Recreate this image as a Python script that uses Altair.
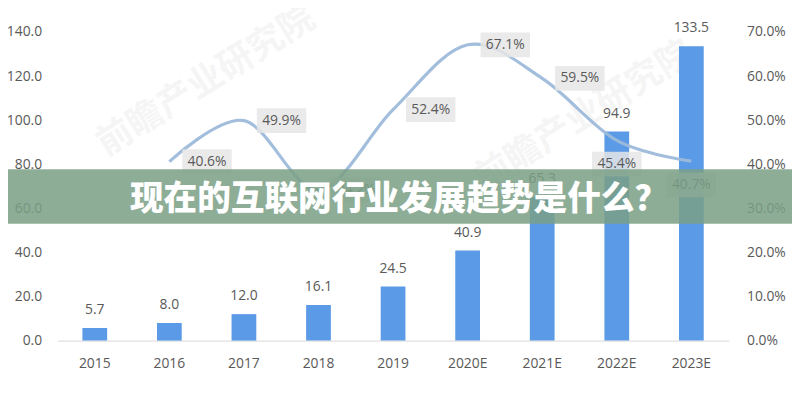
import altair as alt
import pandas as pd

years = ["2015", "2016", "2017", "2018", "2019", "2020E", "2021E", "2022E", "2023E"]
revenue = [5.7, 8.0, 12.0, 16.1, 24.5, 40.9, 65.3, 94.9, 133.5]
growth_pct = [None, 40.6, 49.9, 34.2, 52.4, 67.1, 59.5, 45.4, 40.7]
right_label_years = ["2016", "2017", "2018", "2019", "2020E", "2021E"]
below_label_years = ["2022E", "2023E"]
left_ticks = [0, 20, 40, 60, 80, 100, 120, 140]
right_ticks = [0, 0.1, 0.2, 0.3, 0.4, 0.5, 0.6, 0.7]
title_text = "现在的互联网行业发展趋势是什么？"
watermark = "前瞻产业研究院"

df = pd.DataFrame({
    "year": years,
    "revenue": revenue,
    "growth": [None if g is None else g / 100 for g in growth_pct],
})

FONT = "Open Sans"
GRAY = "#595959"

x_enc = alt.X(
    "year:N", sort=years,
    scale=alt.Scale(paddingInner=0, paddingOuter=0),
    axis=alt.Axis(title=None, labelAngle=0, ticks=False, domainColor="#d9d9d9",
                  domainWidth=1, labelPadding=16, labelFontSize=14,
                  labelColor=GRAY, labelFont=FONT, grid=False),
)

y_left = alt.Y(
    "revenue:Q",
    scale=alt.Scale(domain=[0, 150], nice=False),
    axis=alt.Axis(values=left_ticks, format=".1f", grid=False, ticks=False,
                  domain=False, domainOpacity=0, title=None, labelPadding=16,
                  labelFontSize=14, labelColor=GRAY, labelFont=FONT),
)

y_right = alt.Y(
    "growth:Q",
    scale=alt.Scale(domain=[0, 0.75], nice=False),
    axis=alt.Axis(values=right_ticks, format=".1%", grid=False, ticks=False,
                  domain=False, domainOpacity=0, title=None, orient="right",
                  labelPadding=18, labelFontSize=14, labelColor=GRAY,
                  labelFont=FONT),
)

base = alt.Chart(df)

# faint watermark
wm_df = pd.DataFrame({"t": [watermark]})
wm_layers = []
for (px, py) in [(150, 72), (532, 107)]:
    wm_layers.append(
        alt.Chart(wm_df).mark_text(
            font="Noto Sans CJK SC", fontSize=36, fontWeight="bold", angle=328,
            color="#000000", opacity=0.035, align="center", baseline="middle"
        ).encode(text="t:N", x=alt.value(px), y=alt.value(py))
    )

bars = base.mark_bar(size=25, color="#5b9ae6").encode(x=x_enc, y=y_left)
bar_text = base.mark_text(
    baseline="bottom", dy=-11, fontSize=14, color=GRAY, font=FONT
).encode(x=x_enc, y=y_left, text=alt.Text("revenue:Q", format=".1f"))

left = alt.layer(bars, bar_text)

gbase = base.transform_filter("datum.growth != null")
line = gbase.mark_line(
    interpolate="cardinal", color="#9dbbda", strokeWidth=3.2, opacity=0.95
).encode(x=x_enc, y=y_right)

box_right_path = "M0.13,-0.125 L0.63,-0.125 L0.63,0.125 L0.13,0.125 Z"
box_below_path = "M-0.25,0.115 L0.25,0.115 L0.25,0.365 L-0.25,0.365 Z"

boxes_r = gbase.transform_filter(
    alt.FieldOneOfPredicate(field="year", oneOf=right_label_years)
).mark_point(shape=box_right_path, size=40000, filled=True,
             color="#e6e6e6", opacity=0.85, strokeWidth=0).encode(x=x_enc, y=y_right)
boxes_b = gbase.transform_filter(
    alt.FieldOneOfPredicate(field="year", oneOf=below_label_years)
).mark_point(shape=box_below_path, size=40000, filled=True,
             color="#e6e6e6", opacity=0.85, strokeWidth=0).encode(x=x_enc, y=y_right)

lab_r = gbase.transform_filter(
    alt.FieldOneOfPredicate(field="year", oneOf=right_label_years)
).mark_text(dx=38, fontSize=14, color=GRAY, font=FONT, baseline="middle").encode(
    x=x_enc, y=y_right, text=alt.Text("growth:Q", format=".1%"))
lab_b = gbase.transform_filter(
    alt.FieldOneOfPredicate(field="year", oneOf=below_label_years)
).mark_text(dy=24, fontSize=14, color=GRAY, font=FONT, baseline="middle").encode(
    x=x_enc, y=y_right, text=alt.Text("growth:Q", format=".1%"))

right = alt.layer(line, boxes_r, boxes_b, lab_r, lab_b)

banner = alt.Chart(wm_df).mark_rect(color="#7a9f85", opacity=0.85).encode(
    x=alt.value(-50), x2=alt.value(742), y=alt.value(161), y2=alt.value(216))
title = alt.Chart(pd.DataFrame({"t": [title_text]})).mark_text(
    font="Noto Sans CJK SC", fontSize=34, fontWeight=900, color="white",
    align="center", baseline="middle"
).encode(text="t:N", x=alt.value(345), y=alt.value(192))

chart = alt.layer(*wm_layers, left, right, banner, title).resolve_scale(
    y="independent"
).properties(
    width=678, height=334,
    background="white",
    autosize=alt.AutoSizeParams(type="none"),
    padding={"left": 50, "top": 0, "right": 64, "bottom": 58},
).configure_view(strokeWidth=0, stroke="transparent").configure_axisY(
    domain=False, grid=False, ticks=False
)

chart.save("out.html", embed_options={"renderer": "svg", "actions": False})
